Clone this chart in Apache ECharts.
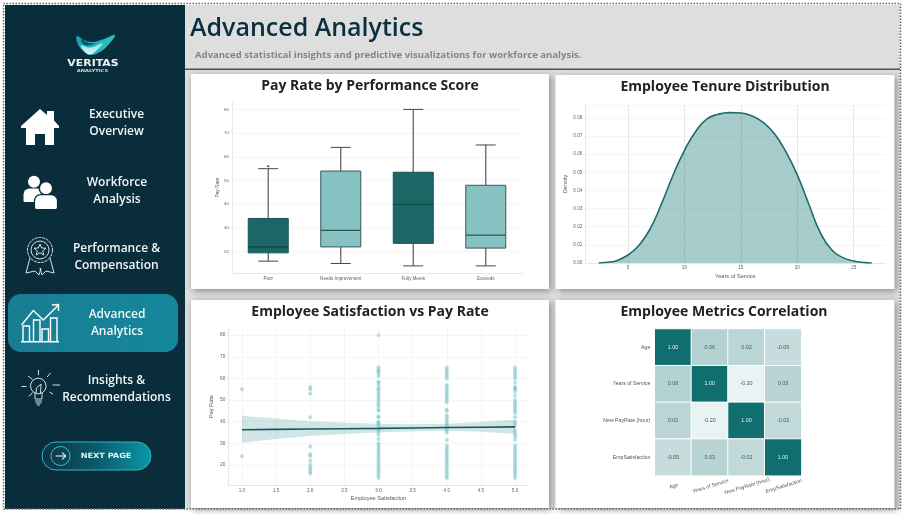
<!DOCTYPE html>
<html><head><meta charset="utf-8">
<style>html,body{margin:0;padding:0;background:#fff;overflow:hidden}#c{width:904px;height:514px}</style>
<script src="https://cdn.jsdelivr.net/npm/echarts@6/dist/echarts.min.js"></script>
</head><body><div id="c"></div>
<script>
// ---------- data ----------
const perfCategories = ['Poor','Needs Improvement','Fully Meets','Exceeds'];
const perfBoxes = [[16,19.5,22,34,55],[15,22,29,54,64],[14,23.5,40,53.5,80],[14,21.5,27,48,65]];
const perfOutliers = [['Poor',56]];
const payTicks = [20,30,40,50,60,70,80];
const tenureTicks = [5,10,15,20,25];
const satTicks = [1,1.5,2,2.5,3,3.5,4,4.5,5];
const tenureYears = [2.4,3,4,5,6,7,8,9,10,11,12,13,14,15,16,17,18,19,20,21,22,23,24,25,26,26.6];
const tenureDensity = [0,.0003,.0013,.0044,.0099,.0192,.033,.0485,.062,.0725,.0794,.082,.0829,.0827,.081,.0774,.0711,.0612,.0486,.0328,.0173,.0076,.0031,.0011,.0002,0];
const satOne = [55,24];
const satTwo = [56,55,53,42,28.5,25,24,22,20,19,18,17,16];
const satThree = [80,65,64,63.5,63,62,61,58.5,58,57,55.5,55,54,53,52,51,50,49,48,47,45.5,45,42.5,42,40,39.5,39,38,37,36,35,34,32,30,29,28,27,26,25,24,23,22,21,20,19,18,17,16,15,14];
const satFour = [65,64,63,62,61,60,57,56,55,54,53,52,51,50,49,45.5,45,43,42,41,40,39,38,37,36,35,31.5,29,28,27,26,25,24,23,22,21,20,19,18,17,16,15,14];
const satFive = [65,64,63,62,61,60,58,56,55.5,55,54,52,50,49,48,47,46,45,44,42,40,39,38,36,35,34,33,31.5,29,28,27,26,25,24,23,22,21,20,19,18,17,16,15,14];
const fitX = [1,1.5,2,2.5,3,3.5,4,4.5,5];
const fitY = [36.3,36.45,36.6,36.75,36.9,37.1,37.3,37.45,37.6];
const ciUpper = [42.8,41.5,40.2,39.5,39,38.8,39,39.8,40.9];
const ciLower = [30.3,32,33.4,34.3,35,35.6,35.8,35.3,34.4];
const corrLabels = ['Age','Years of Service','New PayRate (hour)','EmpSatisfaction'];
const corrMatrix = [[1,.06,.02,-.05],[.06,1,-.2,.03],[.02,-.2,1,-.02],[-.05,.03,-.02,1]];
const navItems = [['Executive','Overview',116.5,115],['Workforce','Analysis',117,183],['Performance &','Compensation',116.5,249],['Advanced','Analytics',117,315],['Insights &','Recommendations',116.5,381]];

// ---------- helpers ----------
const UI = '"Open Sans","Noto Sans",sans-serif';
const TICK = '"Liberation Sans",Arial,sans-serif';
const LG = (a,b,c,d,s)=>new echarts.graphic.LinearGradient(a,b,c,d,s);
const els = [];
const add = (type,shape,style,z)=>els.push({type,shape,style,z:z==null?-1:z,silent:true});
const rect = (x,y,w,h,style,r)=>add('rect',{x,y,width:w,height:h,r:r||0},style);
const poly = (pts,style,smooth)=>add('polygon',{points:pts,smooth:smooth||0},style);
const pline = (pts,style,smooth)=>add('polyline',{points:pts,smooth:smooth||0},style);
const circ = (cx,cy,r,style)=>add('circle',{cx,cy,r},style);
const seg = (x1,y1,x2,y2,style)=>add('line',{x1,y1,x2,y2},style);
const txt = (text,x,y,fill,font,stretch)=>els.push({type:'text',z:-1,silent:true,originX:x,originY:y,scaleX:stretch||1,scaleY:1,
  style:{text,x,y,fill,font,textAlign:'center',textVerticalAlign:'middle'}});

// page
rect(5,5,895,504,{fill:'#dedede'});
rect(5,5,180,504,{fill:'#092d3b'});
seg(185,69.2,900,69.2,{stroke:'#3b5866',lineWidth:1.5});
const card={fill:'#fff',shadowBlur:7,shadowColor:'rgba(0,0,0,.38)',shadowOffsetX:2,shadowOffsetY:2};
rect(191,74,358,215,card); rect(555.5,75,339,214,card);
rect(191,300,358,208,card); rect(555.5,300,339,208,card);
rect(3.5,3.5,897,505.5,{fill:'none',stroke:'#666',lineWidth:1.5,lineDash:[1.5,1.5]});
// active nav
rect(8,294,170,58,{fill:LG(0,0,1,0,[{offset:0,color:'#1a7d92'},{offset:1,color:'#14879c'}])},13);
// nav text
navItems.forEach(n=>{txt(n[0],n[2],n[3],'#f1f6f7','600 12px '+UI);txt(n[1],n[2],n[3]+17,'#f1f6f7','600 12px '+UI);});
// logo
poly([[77,36],[84,40],[92,42],[104,39],[115,35],[109,44],[100,52],[90,55],[82,50],[77,42]],{fill:LG(0,0,1,0,[{offset:0,color:'#16a3b3'},{offset:1,color:'#2ec0c6'}])},.4);
poly([[81,45],[90,47.5],[103,43],[97,50],[90,54.5],[84,51]],{fill:LG(0,0,0,1,[{offset:0,color:'#8fdde0'},{offset:1,color:'#d8f4f4'}])},.4);
poly([[81,39],[89,43],[96,43],[88,45.5],[83,44]],{fill:'#0d5766'},.4);
txt('VERITAS',93,63.3,'#eef4f5','600 8.6px "DejaVu Sans"',1.27);
txt('ANALYTICS',92.5,70.5,'#cfdde0','bold 4px "DejaVu Sans"',1.28);
// house
poly([[21,126],[40,109],[47,115],[47,111],[54,111],[54,120.5],[59,126],[59,128],[54,128],[54,145],[45,145],[45,134],[35,134],[35,145],[26,145],[26,128],[21,128]],{fill:'#fff'});
// people
circ(34,181.7,6,{fill:'#fff'});
rect(23.5,188.5,20.5,13.5,{fill:'#fff'},[6,6,1.5,1.5]);
circ(46,188.3,6.7,{fill:'#fff',stroke:'#092d3b',lineWidth:1.5});
rect(34.5,194.7,23,14.8,{fill:'#fff',stroke:'#092d3b',lineWidth:1.2},[6,6,2,2]);
// award
const W={fill:'none',stroke:'#eef4f5',lineWidth:.9};
const W2={fill:'none',stroke:'#fff',lineWidth:1.4};
circ(40,250,12.5,Object.assign({},W,{lineDash:[3,.8]}));
circ(40,250,9,W);
poly([[40,244],[41.7,248],[46,248.2],[42.7,251],[43.7,255],[40,252.8],[36.3,255],[37.3,251],[34,248.2],[38.3,248]],W);
pline([[30,258],[26,273],[35,271],[39,275],[41,268]],W);
pline([[50,258],[54,273],[46,271],[42,275],[40,268]],W);
// growth chart
seg(21,341.7,59,341.7,W2);
[[23,326],[33.5,320],[42,329],[50.5,318]].forEach(b=>pline([[b[0],341],[b[0],b[1]],[b[0]+6.5,b[1]],[b[0]+6.5,341]],W2));
pline([[21.5,325],[33.3,310.5],[43.3,320],[58,305.5]],W2);
pline([[52,305],[58.5,304.5],[58.5,311]],W2);
// bulb
circ(38.3,386,7.8,W);
pline([[35,393],[35,399],[42,399],[42,393]],W);
seg(35,401,42,401,W);seg(35.5,403,41.5,403,W);seg(37,405,40,405,W);
pline([[36,393],[36.5,388],[41,384],[40.5,393]],W);
[[38.5,370,38.5,375],[28,376,32.5,379.5],[50.5,373,47,377],[21.5,386.5,26.5,386.5],[52.5,385,60,385],[29,396.5,32.5,392.5],[49.5,392,53,394]].forEach(l=>seg(l[0],l[1],l[2],l[3],W));
// next page
rect(42,442,109,28,{fill:LG(0,0,1,0,[{offset:0,color:'#0b3545'},{offset:.45,color:'#0b5566'},{offset:1,color:'#0a97a8'}]),stroke:'#31b6be',lineWidth:1},14);
circ(60.5,456,9.5,{fill:'none',stroke:'#3fc0c6',lineWidth:1});
seg(55.5,456,65.5,456,{stroke:'#e8f6f6',lineWidth:1.1});
pline([[62,452.7],[65.7,456],[62,459.3]],{fill:'none',stroke:'#e8f6f6',lineWidth:1.1});
txt('NEXT PAGE',106,456,'#dff3f3','bold 7.2px "DejaVu Sans"',1.13);

// ---------- axes ----------
const faint='#f5f5f7', axisC='#e7e7ea', tickC='#5f5f5f';
const cardTitle=(text,x,y)=>({text,left:x,top:y,padding:0,textAlign:'center',textStyle:{fontFamily:UI,fontWeight:700,fontSize:14,color:'#222',lineHeight:18}});
const nameStyle=(s)=>({fontFamily:TICK,fontSize:s,color:'#555'});
const labelStyle=(s,m)=>({fontFamily:TICK,fontSize:s,color:tickC,margin:m==null?3:m});

const scatterRows=[[1,satOne],[2,satTwo],[3,satThree],[4,satFour],[5,satFive]].flatMap(r=>r[1].map(v=>[r[0],v]));
const heatRows=[];corrMatrix.forEach((row,i)=>row.forEach((v,j)=>heatRows.push({value:[j,i,v],label:{color:v>.5?'#e4f2f2':'#4a5a5a'}})));

const option={
 animation:false,
 backgroundColor:'#fff',
 title:[
  {text:'Advanced Analytics',left:190,top:13,padding:0,textStyle:{fontFamily:UI,fontWeight:600,fontSize:25,color:'#0b2f3f',lineHeight:32}},
  {text:'Advanced statistical insights and predictive visualizations for workforce analysis.',left:195,top:48.5,padding:0,textStyle:{fontFamily:UI,fontWeight:700,fontSize:9.55,color:'#7c8794',lineHeight:13}},
  cardTitle('Pay Rate by Performance Score',370,77),
  cardTitle('Employee Tenure Distribution',725,78),
  cardTitle('Employee Satisfaction vs Pay Rate',370,303),
  cardTitle('Employee Metrics Correlation',724,303)
 ],
 graphic:{elements:els},
 grid:[
  {left:232,top:102.3,width:290,height:170.7},
  {left:585.3,top:105,width:300,height:158},
  {left:228.3,top:328,width:300.4,height:157.3},
  {left:654.7,top:329,width:146.7,height:146.7}
 ],
 xAxis:[
  {gridIndex:0,type:'category',data:perfCategories,axisLine:{lineStyle:{color:axisC}},axisTick:{show:false},splitLine:{show:false},axisLabel:labelStyle(4.6)},
  {gridIndex:1,type:'value',min:1.22,max:27.8,name:'Years of Service',nameLocation:'middle',nameGap:10,nameTextStyle:nameStyle(5.6),
   axisLine:{show:true,lineStyle:{color:axisC}},axisTick:{show:false,customValues:tenureTicks},
   axisLabel:Object.assign(labelStyle(4.6,2.5),{customValues:tenureTicks}),splitLine:{show:true,lineStyle:{color:'#e6e6ea'}}},
  {gridIndex:2,type:'value',min:.8,max:5.2,name:'Employee Satisfaction',nameLocation:'middle',nameGap:10,nameTextStyle:nameStyle(5.6),
   axisLine:{show:true,lineStyle:{color:axisC}},axisTick:{show:false,customValues:satTicks},
   axisLabel:Object.assign(labelStyle(4.6),{customValues:satTicks,formatter:v=>v.toFixed(1)}),splitLine:{show:true,lineStyle:{color:faint}}},
  {gridIndex:3,type:'category',data:corrLabels,axisLine:{show:false},axisTick:{show:false},splitLine:{show:false},
   axisLabel:{fontFamily:TICK,fontSize:5.2,color:'#555',rotate:17,align:'center',verticalAlign:'top',margin:8,interval:0}}
 ],
 yAxis:[
  {gridIndex:0,type:'value',min:11,max:83,name:'Pay Rate',nameLocation:'middle',nameGap:11,nameTextStyle:nameStyle(4.8),
   axisLine:{show:true,lineStyle:{color:axisC}},axisTick:{show:false,customValues:payTicks},splitLine:{show:true,lineStyle:{color:faint}},
   axisLabel:Object.assign(labelStyle(4.4),{customValues:payTicks})},
  {gridIndex:1,type:'value',min:0,max:.0871,interval:.01,name:'Density',nameLocation:'middle',nameGap:17,nameTextStyle:nameStyle(5.6),
   axisLine:{show:true,lineStyle:{color:axisC}},axisTick:{show:false},splitLine:{show:true,lineStyle:{color:faint}},
   axisLabel:Object.assign(labelStyle(4.6),{showMaxLabel:false,formatter:v=>v.toFixed(2)})},
  {gridIndex:2,type:'value',min:10.6,max:83.3,name:'Pay Rate',nameLocation:'middle',nameGap:14,nameTextStyle:nameStyle(5.6),
   axisLine:{show:true,lineStyle:{color:axisC}},axisTick:{show:false,customValues:payTicks},splitLine:{show:true,lineStyle:{color:faint}},
   axisLabel:Object.assign(labelStyle(4.8),{customValues:payTicks})},
  {gridIndex:3,type:'category',data:corrLabels,inverse:true,axisLine:{show:false},axisTick:{show:false},splitLine:{show:false},
   axisLabel:{fontFamily:TICK,fontSize:5.2,color:'#555',margin:4.4,interval:0}}
 ],
 visualMap:{show:false,seriesIndex:6,dimension:2,min:-.2,max:1,inRange:{color:['#e9f3f3','#bcd6d6','#a3c8c9','#7cb2b3','#4f9797','#2a8181','#116e6e']}},
 series:[
  {type:'custom',xAxisIndex:0,yAxisIndex:0,silent:true,encode:{x:0,y:[1,2,3,4,5]},
   data:perfBoxes.map((b,i)=>[i].concat(b)),
   renderItem(p,api){
    const i=api.value(0),x=api.coord([i,0])[0];
    const Y=k=>api.coord([i,api.value(k)])[1];
    const dark=i%2===0;
    const ln=(x1,y1,x2,y2,c,w)=>({type:'line',shape:{x1,y1,x2,y2},style:{stroke:c,lineWidth:w}});
    return {type:'group',children:[
     ln(x,Y(1),x,Y(2),'#666',1.3),ln(x,Y(4),x,Y(5),'#666',1.3),
     ln(x-10,Y(1),x+10,Y(1),'#3f4a4a',1),ln(x-10,Y(5),x+10,Y(5),'#3f4a4a',1),
     {type:'rect',shape:{x:x-20,y:Y(4),width:40,height:Y(2)-Y(4)},style:{fill:dark?'#1c6666':'#86c2c2',stroke:dark?'#185555':'#37595a',lineWidth:1}},
     ln(x-20,Y(3),x+20,Y(3),dark?'#124546':'#2e5455',1.2)
    ]};
   }},
  {type:'scatter',xAxisIndex:0,yAxisIndex:0,symbolSize:2.2,itemStyle:{color:'#222'},data:perfOutliers},
  {type:'line',xAxisIndex:1,yAxisIndex:1,smooth:.5,showSymbol:false,data:tenureYears.map((x,i)=>[x,tenureDensity[i]]),
   lineStyle:{color:'#1f6b6b',width:1.6},areaStyle:{color:'#24807f',opacity:.4}},
  {type:'custom',xAxisIndex:2,yAxisIndex:2,silent:true,data:fitX.map((x,i)=>[x,ciUpper[i],ciLower[i]]),encode:{x:0,y:[1,2]},
   renderItem(p,api){
    if(p.dataIndex!==0)return null;
    const up=fitX.map((x,i)=>api.coord([x,ciUpper[i]]));
    const lo=fitX.map((x,i)=>api.coord([x,ciLower[i]])).reverse();
    return {type:'polygon',shape:{points:up.concat(lo)},style:{fill:'#2a8a8a',opacity:.22}};
   }},
  {type:'scatter',xAxisIndex:2,yAxisIndex:2,symbolSize:4,itemStyle:{color:'#7fc5c8',opacity:.55},data:scatterRows},
  {type:'line',xAxisIndex:2,yAxisIndex:2,showSymbol:false,lineStyle:{color:'#17595a',width:1.6},data:fitX.map((x,i)=>[x,fitY[i]])},
  {type:'heatmap',xAxisIndex:3,yAxisIndex:3,data:heatRows,itemStyle:{borderColor:'#fff',borderWidth:1},
   label:{show:true,fontFamily:TICK,fontSize:5.4,formatter:p=>p.value[2].toFixed(2)}}
 ]
};
const chart=echarts.init(document.getElementById('c'),null,{renderer:'canvas',width:904,height:514});
chart.setOption(option);
</script></body></html>
